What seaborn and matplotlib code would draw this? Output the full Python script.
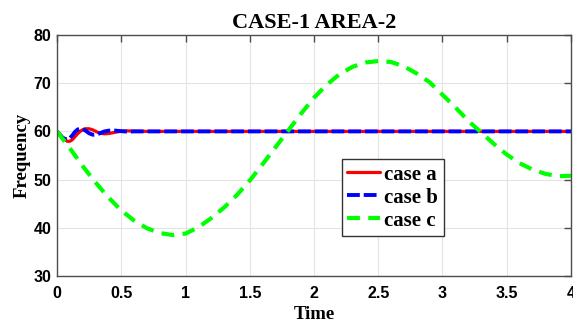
import matplotlib
matplotlib.use("Agg")
import numpy as np
import pandas as pd
import matplotlib.pyplot as plt
import seaborn as sns

# time samples for the fast transient of case a / case b
time_ab = [0, 0.02, 0.04, 0.06, 0.08, 0.1, 0.12, 0.14, 0.16, 0.18, 0.2, 0.22,
           0.25, 0.28, 0.31, 0.34, 0.37, 0.4, 0.44, 0.48, 0.52, 0.56, 0.6,
           0.7, 0.8, 1.0, 1.5, 2.0, 2.5, 3.0, 3.5, 4.0]
case_a = [60, 59.4, 58.8, 58.3, 57.95, 57.95, 58.3, 58.9, 59.5, 60.0, 60.35, 60.55,
          60.55, 60.3, 59.9, 59.6, 59.5, 59.55, 59.75, 59.95, 60.1, 60.1, 60.05,
          60.0, 60.0, 60.0, 60.0, 60.0, 60.0, 60.0, 60.0, 60.0]
case_b = [60, 59.4, 58.8, 58.45, 58.35, 58.6, 59.2, 59.9, 60.4, 60.55, 60.5, 60.2,
          59.6, 59.3, 59.35, 59.7, 60.0, 60.15, 60.2, 60.1, 60.0, 59.95, 60.0,
          60.0, 60.0, 60.0, 60.0, 60.0, 60.0, 60.0, 60.0, 60.0]

# slow oscillation of case c
time_c = [0, 0.1, 0.2, 0.3, 0.4, 0.5, 0.6, 0.7, 0.8, 0.9, 1.0, 1.1, 1.2, 1.3,
          1.4, 1.5, 1.6, 1.7, 1.8, 1.9, 2.0, 2.1, 2.2, 2.3, 2.4, 2.5, 2.6, 2.7,
          2.8, 2.9, 3.0, 3.1, 3.2, 3.3, 3.4, 3.5, 3.6, 3.7, 3.8, 3.9, 4.0]
case_c = [60.0, 56.5, 52.8, 49.4, 46.3, 43.6, 41.5, 39.9, 38.9, 38.5, 38.8, 40.1,
          42.0, 44.2, 46.8, 49.8, 53.2, 56.7, 60.2, 63.7, 67.0, 69.7, 71.9, 73.4,
          74.3, 74.6, 74.4, 73.5, 72.0, 70.2, 67.6, 65.0, 62.2, 59.8, 57.4, 55.2,
          53.4, 52.1, 51.2, 50.7, 50.8]

x_ticks = [0, 0.5, 1, 1.5, 2, 2.5, 3, 3.5, 4]
x_tick_labels = ["0", "0.5", "1", "1.5", "2", "2.5", "3", "3.5", "4"]
y_ticks = [30, 40, 50, 60, 70, 80]

sns.set_theme(style="whitegrid")
plt.rcParams["font.family"] = ["Liberation Sans", "DejaVu Sans"]
plt.rcParams["text.color"] = "black"
plt.rcParams["axes.labelcolor"] = "black"

fig = plt.figure(figsize=(5.73, 3.26), dpi=100)
ax = fig.add_axes([0.0995, 0.1534, 0.897, 0.7392])

df_ab = pd.DataFrame({"t": time_ab, "a": case_a, "b": case_b})
df_c = pd.DataFrame({"t": time_c, "c": case_c})

sns.lineplot(data=df_ab, x="t", y="a", ax=ax, color="#ff0000", lw=2.3, label="case a")
sns.lineplot(data=df_ab, x="t", y="b", ax=ax, color="#0000ff", lw=2.8, label="case b")
sns.lineplot(data=df_c, x="t", y="c", ax=ax, color="#00ff00", lw=3.0, label="case c")
ax.lines[1].set_dashes((3.3, 1.0))
ax.lines[2].set_dashes((3.1, 2.0))

ax.set_xlim(0, 4)
ax.set_ylim(30, 80)
ax.set_xticks(x_ticks)
ax.set_xticklabels(x_tick_labels)
ax.set_yticks(y_ticks)

ax.grid(True, color="#e3e3e3", lw=0.8)
for side in ["left", "right", "top", "bottom"]:
    ax.spines[side].set_visible(True)
    ax.spines[side].set_color("#4d4d4d")
    ax.spines[side].set_linewidth(1.0)
ax.tick_params(direction="in", length=5, width=1, color="#4d4d4d",
               top=True, right=True, labelsize=11.5, labelcolor="black")
ax.tick_params(axis="x", pad=7.5)
ax.tick_params(axis="y", pad=4)
for lab in ax.get_xticklabels() + ax.get_yticklabels():
    lab.set_fontweight("bold")

serif = ["Liberation Serif", "DejaVu Serif"]
ax.set_title("CASE-1 AREA-2", family=serif, fontweight="bold", fontsize=16,
             pad=5, color="black")
ax.set_xlabel("Time", family=serif, fontweight="bold", fontsize=13.5, labelpad=3)
ax.set_ylabel("Frequency", family=serif, fontweight="bold", fontsize=13.5, labelpad=2)

leg = ax.legend(loc="lower left", bbox_to_anchor=(0.554, 0.166), borderaxespad=0,
                prop={"family": serif, "weight": "bold", "size": 15},
                handlelength=1.6, handletextpad=0.2, labelspacing=0.15,
                borderpad=0.25, fancybox=False, framealpha=1)
leg.get_frame().set_edgecolor("#333333")
leg.get_frame().set_linewidth(1.0)

fig.savefig("out.png", dpi=100)
